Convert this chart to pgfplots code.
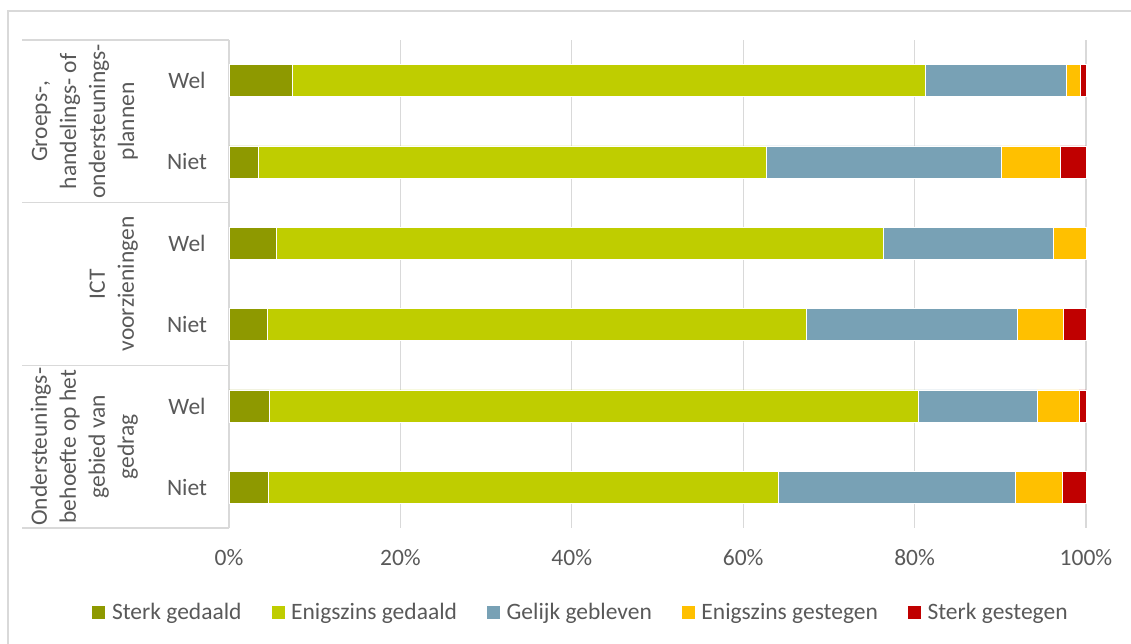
\documentclass[border=0pt]{standalone}
\usepackage{fontspec}
\setmainfont{Carlito}
\usepackage{pgfplots}
\pgfplotsset{compat=1.18}
\definecolor{c1}{HTML}{8E9900}
\definecolor{c2}{HTML}{BFCD00}
\definecolor{c3}{HTML}{78A1B5}
\definecolor{c4}{HTML}{FFC000}
\definecolor{c5}{HTML}{C00000}
\definecolor{txt}{HTML}{595959}
\definecolor{gridgray}{HTML}{D9D9D9}
\newcommand{\fs}{\fontsize{23.5}{29}\selectfont}
\begin{document}
\begin{tikzpicture}
\useasboundingbox (0,0) rectangle (1131pt,644pt);
\draw[gridgray, line width=1.2pt] (8pt,0pt) -- (8pt,633pt) -- (1131pt,633pt);
\begin{axis}[
  at={(229pt,116pt)}, anchor=south west,
  scale only axis, width=857pt, height=488pt,
  xbar stacked, bar width=32pt,
  xmin=0, xmax=100, ymin=-0.5, ymax=5.5,
  xtick={0,20,40,60,80,100},
  xticklabels={0\%,20\%,40\%,60\%,80\%,100\%},
  ytick={0,1,2,3,4,5},
  yticklabels={Niet,Wel,Niet,Wel,Niet,Wel},
  xmajorgrids, grid style={draw=gridgray, line width=1.2pt},
  axis line style={draw=none},
  major tick length=0pt,
  tick label style={font=\fs, text=txt},
  xticklabel style={anchor=base, yshift=-38pt},
  yticklabel style={anchor=center, xshift=-42pt},
  clip=false,
  every axis plot/.append style={draw=white, line width=0.6pt},
  legend columns=5,
  legend cell align=left,
  legend image code/.code={\fill[#1] (0pt,-7pt) rectangle (14pt,7pt);},
  legend style={at={(0.409,-0.172)}, anchor=center, draw=none, fill=none,
    font=\fs, text=txt, inner sep=0pt,
    nodes={inner sep=0pt},
    /tikz/every odd column/.append style={column sep=6pt},
    /tikz/every even column/.append style={column sep=29pt}},
]
\addplot[fill=c1] coordinates {(4.6,0) (4.7,1) (4.5,2) (5.5,3) (3.4,4) (7.4,5)};
\addplot[fill=c2] coordinates {(59.5,0) (75.7,1) (62.9,2) (70.9,3) (59.3,4) (73.9,5)};
\addplot[fill=c3] coordinates {(27.7,0) (13.9,1) (24.6,2) (19.8,3) (27.4,4) (16.4,5)};
\addplot[fill=c4] coordinates {(5.4,0) (4.9,1) (5.4,2) (3.8,3) (6.9,4) (1.6,5)};
\addplot[fill=c5] coordinates {(2.8,0) (0.8,1) (2.6,2) (0.0,3) (3.0,4) (0.7,5)};
\legend{Sterk gedaald, Enigszins gedaald, Gelijk gebleven, Enigszins gestegen, Sterk gestegen}
\end{axis}
\foreach \yy in {604, 441.33, 278.67, 116} {
  \draw[gridgray, line width=1.2pt] (22pt,\yy pt) -- (229pt,\yy pt);
}
\node[rotate=90, anchor=south, align=center, font=\fs, text=txt, inner sep=0pt] at (138pt,522.7pt) {Groeps-,\\handelings- of\\ondersteunings-\\plannen};
\node[rotate=90, anchor=south, align=center, font=\fs, text=txt, inner sep=0pt] at (138pt,360pt) {ICT\\voorzieningen};
\node[rotate=90, anchor=south, align=center, font=\fs, text=txt, inner sep=0pt] at (138pt,197.3pt) {Ondersteunings-\\behoefte op het\\gebied van\\gedrag};
\end{tikzpicture}
\end{document}
